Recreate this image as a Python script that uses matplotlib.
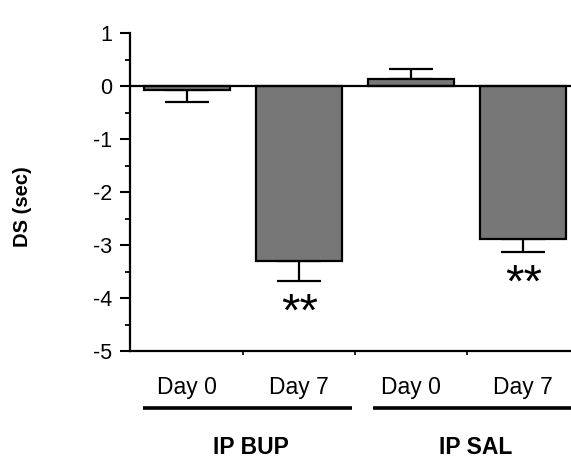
import matplotlib
matplotlib.use('Agg')
import matplotlib.pyplot as plt
import matplotlib.transforms as mtransforms
import numpy as np

plt.rcParams['font.family'] = ['Liberation Sans', 'DejaVu Sans']

# values
days = ['Day 0', 'Day 7', 'Day 0', 'Day 7']
groups = ['IP BUP', 'IP SAL']
means = [-0.07, -3.31, 0.13, -2.88]
sems = [0.23, 0.37, 0.19, 0.26]
signif = ['', '**', '', '**']

x = np.arange(len(means))
means_a = np.array(means)
sems_a = np.array(sems)
# error bars only drawn away from zero
lower = np.where(means_a < 0, sems_a, 0)
upper = np.where(means_a >= 0, sems_a, 0)

fig = plt.figure(figsize=(5.71, 4.57), dpi=100)
ax = fig.add_axes([130/571, 1 - 351/457, 1 - 130/571, (351 - 33)/457])

ax.bar(x, means, width=0.77, color='#777777', edgecolor='black', linewidth=1.6, zorder=2)
ax.errorbar(x, means, yerr=[lower, upper], fmt='none', ecolor='black',
            elinewidth=1.6, capsize=16, capthick=1.6, zorder=1)
ax.axhline(0, color='black', linewidth=1.6, zorder=3)

for xi, m, s, lab in zip(x, means, sems, signif):
    if lab:
        ax.annotate(lab, xy=(xi, m - s), xytext=(0.5, -32), textcoords='offset points',
                    ha='center', va='baseline', fontsize=34)

ax.set_xlim(-0.51, 3.43)
ax.set_ylim(-5, 1)
ax.set_yticks(np.arange(-5, 2, 1))
ax.set_yticks(np.arange(-5, 1, 0.5), minor=True)
ax.set_yticklabels([str(v) for v in range(-5, 2)], fontsize=15.5)
ax.tick_params(axis='y', which='major', length=7, width=1.5, pad=6)
ax.tick_params(axis='y', which='minor', length=3.5, width=1.3)
ax.set_xticks([])
ax.set_xticks([0.5, 1.5, 2.5], minor=True)
ax.tick_params(axis='x', which='minor', length=3, width=1.2, direction='out')
ax.spines['top'].set_visible(False)
ax.spines['right'].set_visible(False)
ax.spines['left'].set_linewidth(1.6)
ax.spines['bottom'].set_linewidth(1.6)

trans = mtransforms.blended_transform_factory(ax.transData, ax.transAxes)
for xi, d in zip(x, days):
    ax.text(xi, -0.115, d, transform=trans, ha='center', va='center', fontsize=16.5)

group_spans = [(-0.39, 1.47), (1.66, 3.43)]
for (a, b), g in zip(group_spans, groups):
    ax.plot([a, b], [-0.179, -0.179], transform=trans, color='black',
            linewidth=2.6, clip_on=False, solid_capstyle='butt')
    ax.text((a + b) / 2 + 0.03, -0.302, g, transform=trans, ha='center', va='center',
            fontsize=16.5, fontweight='bold')

fig.text(23/571, 1 - 207/457, 'DS (sec)', rotation=90, ha='center', va='center',
         fontsize=14.5, fontweight='bold')

fig.savefig('out.png', dpi=100)
